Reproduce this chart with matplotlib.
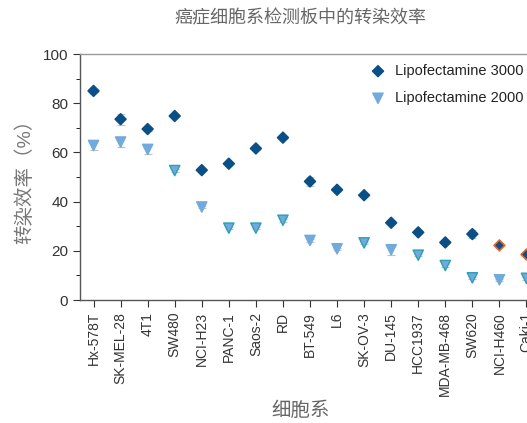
import numpy as np
import matplotlib.pyplot as plt
from matplotlib.ticker import MultipleLocator

plt.rcParams['font.family'] = ['Liberation Sans', 'Noto Sans CJK SC', 'DejaVu Sans']

# 数据
cell_lines = ["Hx-578T", "SK-MEL-28", "4T1", "SW480", "NCI-H23", "PANC-1", "Saos-2", "RD",
              "BT-549", "L6", "SK-OV-3", "DU-145", "HCC1937", "MDA-MB-468", "SW620",
              "NCI-H460", "Caki-1"]
lipo3000 = [85.0, 73.5, 69.5, 74.8, 52.8, 55.4, 61.6, 66.0, 48.2, 44.8, 42.6, 31.4, 27.5,
            23.4, 26.8, 22.2, 18.5]
lipo3000_err = [0.6, 2.2, 0.8, 0.6, 0.5, 0.5, 0.5, 0.5, 1.8, 0.5, 0.5, 0.6, 0.5, 0.5, 1.5, 0.5, 0.5]
lipo2000 = [62.8, 64.2, 61.2, 52.6, 37.8, 29.2, 29.2, 32.4, 24.2, 20.8, 23.2, 20.4, 18.2,
            14.0, 9.0, 8.2, 8.8]
lipo2000_err = [1.8, 2.2, 2.0, 0.6, 0.5, 0.5, 0.5, 0.5, 0.5, 0.5, 0.5, 2.2, 0.5, 0.5, 0.5, 0.5, 0.5]

c3000 = '#0a4f86'
c2000 = '#72aadd'
edge2000 = ['#72aadd', '#72aadd', '#72aadd', '#2a9fb6', '#72aadd', '#2a9fb6', '#2a9fb6', '#2a9fb6',
            '#72aadd', '#72aadd', '#2a9fb6', '#72aadd', '#2a9fb6', '#2a9fb6', '#2a9fb6', '#72aadd', '#2a9fb6']
edge3000 = [c3000] * 15 + ['#e8642a', '#e8642a']

x = np.arange(len(cell_lines))

fig = plt.figure(figsize=(5.27, 4.23), dpi=100)
ax = fig.add_axes([80 / 527, 1 - 300 / 423, 460 / 527, 246 / 423])

ax.errorbar(x, lipo3000, yerr=lipo3000_err, fmt='none', ecolor='#b8c4d0', elinewidth=0.8,
            capsize=3, capthick=0.8, zorder=2)
ax.errorbar(x, lipo2000, yerr=lipo2000_err, fmt='none', ecolor='#b8c4d0', elinewidth=0.8,
            capsize=3, capthick=0.8, zorder=2)
ax.scatter(x, lipo3000, marker='D', s=30, color=c3000, edgecolors=edge3000, linewidths=1.2,
           zorder=3, label='Lipofectamine 3000')
ax.scatter(x, lipo2000, marker='v', s=55, color=c2000, edgecolors=edge2000, linewidths=1.0,
           zorder=3, label='Lipofectamine 2000')

ax.set_xlim(-0.5, 16.5)
ax.set_ylim(0, 100)
ax.set_xticks(x)
ax.set_xticklabels(cell_lines, rotation=90, fontsize=10, color='#333333')
ax.yaxis.set_major_locator(MultipleLocator(20))
ax.yaxis.set_minor_locator(MultipleLocator(10))
ax.tick_params(axis='y', labelsize=11, colors='#333333', direction='out', length=5)
ax.tick_params(axis='y', which='minor', length=3)
ax.tick_params(axis='x', direction='out', length=5, colors='#333333')

for s in ['left', 'bottom', 'top']:
    ax.spines[s].set_color('#555555')
    ax.spines[s].set_linewidth(1.0)
ax.spines['top'].set_color('#999999')
ax.spines['right'].set_visible(False)

ax.set_ylabel('转染效率（%）', fontsize=14, color='#777777', labelpad=6)
fig.text(0.57, 0.955, '癌症细胞系检测板中的转染效率', ha='center', va='center', fontsize=13, color='#666666')
fig.text(0.57, 0.03, '细胞系', ha='center', va='center', fontsize=14, color='#666666')

leg = ax.legend(loc='upper right', bbox_to_anchor=(524 / 527, 1 - 64 / 423),
                bbox_transform=fig.transFigure, frameon=False, fontsize=10.5,
                handletextpad=0.2, borderaxespad=0.0, labelspacing=0.9, borderpad=0.0)
for t in leg.get_texts():
    t.set_color('#222222')

plt.savefig('out.png', dpi=100)
